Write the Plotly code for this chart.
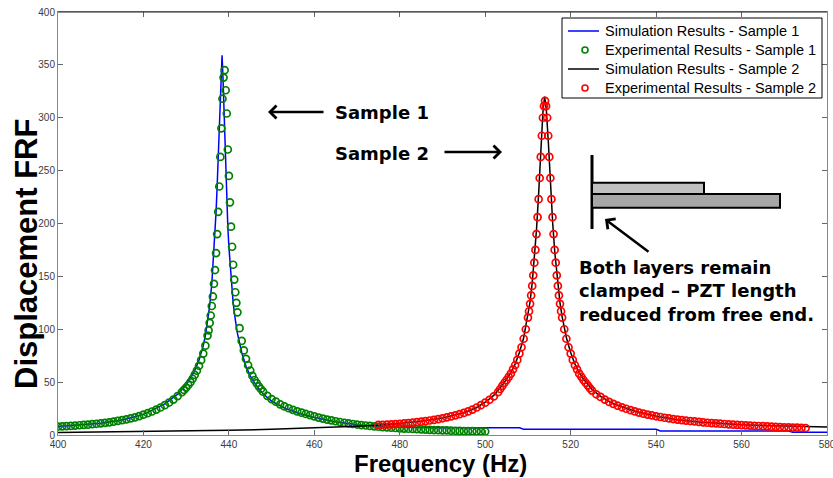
import plotly.graph_objects as go

# ---------------- data ----------------
sim1_f = [400, 405, 410, 415, 420, 425, 428, 430, 432, 433, 434, 434.5, 435, 435.5, 436, 436.5, 437,
          437.25, 437.5, 437.75, 438, 438.25, 438.4, 438.6, 438.8, 439, 439.25, 439.5, 439.75, 440,
          440.5, 441, 441.5, 442, 443, 444, 445, 446, 448, 450, 453, 456, 460, 465, 470, 475, 480,
          485, 490, 500, 508, 509, 520, 530, 540, 541, 550, 560, 571, 572, 580]
sim1_v = [8.1, 9.4, 11.1, 14.2, 19.5, 29.5, 38.5, 47.3, 60.8, 70.8, 84.5, 94, 106, 122, 143, 172, 211,
          235, 263, 292, 322, 348, 359, 340, 312, 280, 248, 220, 197, 178,
          147, 125, 109, 96, 78, 65, 56, 49, 39, 32, 25.5, 21, 16.5, 12.5, 9.8, 8.2, 7.4,
          7.0, 6.9, 6.9, 6.9, 5.4, 5.4, 5.4, 5.4, 3.8, 3.8, 3.8, 3.8, 2.6, 2.6]

exp1_f = [400, 401, 402, 403, 404, 405, 406, 407, 408, 409, 410, 411, 412, 413, 414, 415, 416, 417,
          418, 419, 420, 421, 422, 423, 424, 425, 426, 427, 428,
          429, 429.5, 430, 430.5, 431, 431.5, 432, 432.5, 433, 433.5, 434, 434.5,
          435, 435.25, 435.5, 435.75, 436, 436.25, 436.5, 436.75, 437, 437.25, 437.5, 437.75,
          438, 438.25, 438.5, 438.75, 439, 439.25, 439.5, 439.75, 440, 440.25, 440.5, 440.75,
          441, 441.25, 441.5, 441.75, 442,
          442.5, 443, 443.5, 444, 444.5, 445, 445.5, 446, 446.5, 447, 447.5, 448,
          449, 450, 451, 452, 453, 454, 455, 456, 457, 458, 459, 460, 461, 462, 463, 464, 465,
          466, 467, 468, 469, 470, 471, 472, 473, 474, 475, 476, 477, 478, 479, 480, 481, 482,
          483, 484, 485, 486, 487, 488, 489, 490, 491, 492, 493, 494, 495, 496, 497, 498, 499, 500]
exp1_v = [8.0, 8.2, 8.4, 8.6, 8.9, 9.2, 9.5, 9.8, 10.2, 10.6, 11.0, 11.5, 12.0, 12.6, 13.3, 14.0,
          14.8, 15.7, 16.7, 17.9, 19.2, 20.6, 22.2, 24.0, 26.0, 28.2, 30.7, 33.5, 36.8,
          40.5, 42.6, 44.8, 47.3, 50.0, 53.2, 56.8, 60.8, 65.5, 70.8, 77, 84.5,
          94, 99, 106, 113, 122, 131, 143, 156, 172, 190, 211, 235,
          263, 290, 318, 338, 345, 326, 304, 270, 245, 220, 197, 178,
          161, 147, 135, 125, 116,
          101, 89, 80, 72, 66, 61, 56, 52, 49, 46, 43.5, 41,
          37, 34, 31.5, 29, 27, 25.3, 23.8, 22.4, 21.1, 19.9, 18.8, 17.6, 16.5, 15.5, 14.6, 13.8,
          13.0, 12.3, 11.6, 11.0, 10.4, 9.9, 9.4, 9.0, 8.6, 8.2, 7.8, 7.5, 7.2, 6.9, 6.6, 6.3,
          6.1, 5.9, 5.7, 5.5, 5.3, 5.1, 4.9, 4.7, 4.6, 4.4, 4.3, 4.1, 4.0, 3.9, 3.8, 3.7, 3.6,
          3.5, 3.4, 3.3]

sim2_f = [400, 410, 420, 430, 440, 450, 460, 470, 475, 480, 485, 490, 495, 498, 500, 502, 504, 505,
          506, 507, 508, 509, 510, 510.5, 511, 511.5, 512, 512.5, 513, 513.5, 513.9, 514.3, 514.8,
          515.3, 515.8, 516.3, 517, 517.5, 518, 519, 520, 521, 522, 523, 525, 527, 530, 535, 540,
          545, 550, 555, 560, 565, 570, 575, 580]
sim2_v = [2.4, 2.8, 3.2, 3.8, 4.5, 5.4, 6.6, 8.3, 9.3, 10.8, 13, 16, 21, 26, 31, 37.5, 47, 53,
          59, 67, 78, 92, 113, 126, 144, 167, 194, 228, 268, 305, 320, 308, 275,
          235, 200, 172, 142, 125, 112, 92, 78, 67, 59, 53, 43, 36.5, 29.5, 22.5, 17.8,
          14.5, 12.3, 10.8, 9.7, 8.9, 8.3, 7.9, 7.6]

exp2_f = [475, 476, 477, 478, 479, 480, 481, 482, 483, 484, 485, 486, 487, 488, 489, 490, 491, 492,
          493, 494, 495, 496, 497, 498, 499, 500, 501, 502, 503,
          503.5, 504, 504.5, 505, 505.5, 506, 506.5, 507, 507.5, 508, 508.5, 509, 509.5,
          510, 510.25, 510.5, 510.75, 511, 511.25, 511.5, 511.75, 512, 512.25, 512.5, 512.75,
          513, 513.25, 513.5, 513.75, 514, 514.25, 514.5, 514.75, 515, 515.25, 515.5, 515.75,
          516, 516.25, 516.5, 516.75, 517, 517.25, 517.5, 517.75, 518,
          518.5, 519, 519.5, 520, 520.5, 521, 521.5, 522, 522.5, 523, 523.5, 524, 524.5, 525,
          526, 527, 528, 529, 530, 531, 532, 533, 534, 535, 536, 537, 538, 539, 540, 541, 542,
          543, 544, 545, 546, 547, 548, 549, 550, 551, 552, 553, 554, 555, 556, 557, 558, 559,
          560, 561, 562, 563, 564, 565, 566, 567, 568, 569, 570, 571, 572, 573, 574, 575]
exp2_v = [9.5, 9.7, 9.9, 10.1, 10.3, 10.5, 10.9, 11.3, 11.7, 12.1, 12.6, 13.1, 13.7, 14.3, 15.0,
          15.8, 16.7, 17.6, 18.6, 19.7, 20.9, 22.3, 24.0, 26.0, 28.2, 30.6, 33.3, 36.5, 40.5,
          43.5, 46.5, 49.4, 52, 55, 58, 62, 66, 71, 77, 83, 91, 100,
          111, 117, 124, 132, 141, 151, 163, 175, 190, 206, 223, 243,
          263, 283, 300, 311, 316, 311, 300, 283, 263, 243, 223, 206,
          190, 175, 163, 151, 141, 132, 124, 117, 111,
          100, 91, 83, 77, 71, 66, 62, 58, 55, 52, 49.4, 47, 44.3, 42.0,
          38.5, 36.0, 33.5, 31.3, 29.4, 27.7, 26.2, 24.8, 23.5, 22.3, 21.2, 20.2, 19.3, 18.5, 17.7,
          17.0, 16.3, 15.7, 15.1, 14.6, 14.1, 13.6, 13.2, 12.8, 12.4, 12.0, 11.6, 11.3, 11.0, 10.7,
          10.4, 10.1, 9.8, 9.6, 9.3, 9.1, 8.9, 8.7, 8.5, 8.3, 8.1, 7.9, 7.7, 7.5, 7.3, 7.2, 7.0,
          6.9, 6.7, 6.6]

x_ticks = [400, 420, 440, 460, 480, 500, 520, 540, 560, 580]
y_ticks = [0, 50, 100, 150, 200, 250, 300, 350, 400]

names = ["Simulation Results - Sample 1", "Experimental Results - Sample 1",
         "Simulation Results - Sample 2", "Experimental Results - Sample 2"]
colors = ["#0000ff", "#008000", "#000000", "#ff0000"]
kinds = ["line", "marker", "line", "marker"]

# ---------------- layout helpers (pixel -> data) ----------------
W, H = 833, 478
L, R, T, B = 58, 827, 12, 435
X0, X1, Y0, Y1 = 400, 580, 0, 400


def X(px):
    return X0 + (px - L) * (X1 - X0) / (R - L)


def Y(py):
    return Y0 + (B - py) * (Y1 - Y0) / (B - T)


fig = go.Figure()
series = [(sim1_f, sim1_v), (exp1_f, exp1_v), (sim2_f, sim2_v), (exp2_f, exp2_v)]
for (fx, fv), nm, col, kind in zip(series, names, colors, kinds):
    if kind == "line":
        fig.add_trace(go.Scatter(x=fx, y=fv, mode="lines", name=nm, showlegend=False,
                                 line=dict(color=col, width=1.5)))
    else:
        fig.add_trace(go.Scatter(x=fx, y=fv, mode="markers", name=nm, showlegend=False,
                                 marker=dict(symbol="circle-open", size=7, color=col,
                                             line=dict(width=1.7, color=col))))

tickfont = dict(family="Liberation Sans, Arial, sans-serif", size=10, color="#3a3a3a")
axis_common = dict(ticks="inside", ticklen=5, tickcolor="#666", showline=True, linecolor="#888",
                   linewidth=1, mirror="ticks", showgrid=False, zeroline=False, tickfont=tickfont,
                   ticklabeloverflow="allow", automargin=False)
fig.update_xaxes(range=[X0, X1], tickvals=x_ticks, **axis_common)
fig.update_yaxes(range=[Y0, Y1], tickvals=y_ticks, **axis_common)

bold = dict(family="DejaVu Sans, Verdana, sans-serif", size=18, color="black")
ann = []
ann.append(dict(x=X(333), y=Y(112), xref="x", yref="y", text="<b>Sample 1</b>", showarrow=False,
                xanchor="left", yanchor="middle", font=bold))
ann.append(dict(x=X(333), y=Y(153), xref="x", yref="y", text="<b>Sample 2</b>", showarrow=False,
                xanchor="left", yanchor="middle", font=bold))
ann.append(dict(x=X(577), y=Y(291), xref="x", yref="y",
                text="<b>Both layers remain<br>clamped \u2013 PZT length<br>reduced from free end.</b>",
                showarrow=False, xanchor="left", yanchor="middle", align="left", font=bold))
for (tx, ty, sx, sy) in [(268, 112, 325, 112), (502, 152, 443, 152), (605, 219, 650, 253)]:
    ann.append(dict(x=X(tx), y=Y(ty), xref="x", yref="y", ax=X(sx), ay=Y(sy), axref="x", ayref="y",
                    text="", showarrow=True, arrowhead=4, arrowsize=1, arrowwidth=2.5,
                    arrowcolor="black"))
ann.append(dict(x=(440 - L) / (R - L), y=-(463 - B) / (B - T), xref="paper", yref="paper",
                text="<b>Frequency (Hz)</b>", showarrow=False, xanchor="center", yanchor="middle",
                font=dict(family="Liberation Sans, Arial, sans-serif", size=24, color="black")))
ann.append(dict(x=-(L - 27) / (R - L), y=(B - 254) / (B - T), xref="paper", yref="paper",
                text="<b>Displacement FRF</b>", showarrow=False, textangle=-90, xanchor="center",
                yanchor="middle",
                font=dict(family="Liberation Sans, Arial, sans-serif", size=31, color="black")))

shapes = [
    dict(type="line", x0=X(592), x1=X(592), y0=Y(155), y1=Y(229), xref="x", yref="y",
         line=dict(color="black", width=3)),
    dict(type="rect", x0=X(592), x1=X(704), y0=Y(182.7), y1=Y(194), xref="x", yref="y",
         fillcolor="#c0c0c0", line=dict(color="black", width=2)),
    dict(type="rect", x0=X(592), x1=X(780), y0=Y(194), y1=Y(207.7), xref="x", yref="y",
         fillcolor="#a6a6a6", line=dict(color="black", width=2)),
    dict(type="line", x0=0, x1=1, y0=1, y1=1, xref="paper", yref="paper",
         line=dict(color="#222", width=1)),
]

# legend box drawn to match the reference's compact MATLAB legend
LG_L, LG_R, LG_T, LG_B = 562, 822, 18, 98
shapes.append(dict(type="rect", x0=X(LG_L), x1=X(LG_R), y0=Y(LG_T), y1=Y(LG_B), xref="x",
                   yref="y", fillcolor="white", line=dict(color="black", width=1), layer="above"))
rows = [31, 50, 69, 88]
for nm, col, kind, ry in zip(names, colors, kinds, rows):
    if kind == "line":
        shapes.append(dict(type="line", x0=X(568), x1=X(599), y0=Y(ry), y1=Y(ry), xref="x",
                           yref="y", line=dict(color=col, width=1.5), layer="above"))
    else:
        shapes.append(dict(type="circle", x0=X(582), x1=X(588), y0=Y(ry - 3), y1=Y(ry + 3),
                           xref="x", yref="y", line=dict(color=col, width=1.6), layer="above"))
    ann.append(dict(x=X(603), y=Y(ry), xref="x", yref="y", text=nm, showarrow=False,
                    xanchor="left", yanchor="middle",
                    font=dict(family="Liberation Sans, Arial, sans-serif", size=14.5,
                              color="black")))

fig.update_layout(
    width=W, height=H, margin=dict(l=L, r=W - R, t=T, b=H - B),
    plot_bgcolor="white", paper_bgcolor="white", showlegend=False,
    annotations=ann, shapes=shapes,
)

fig.write_html("out.html")
